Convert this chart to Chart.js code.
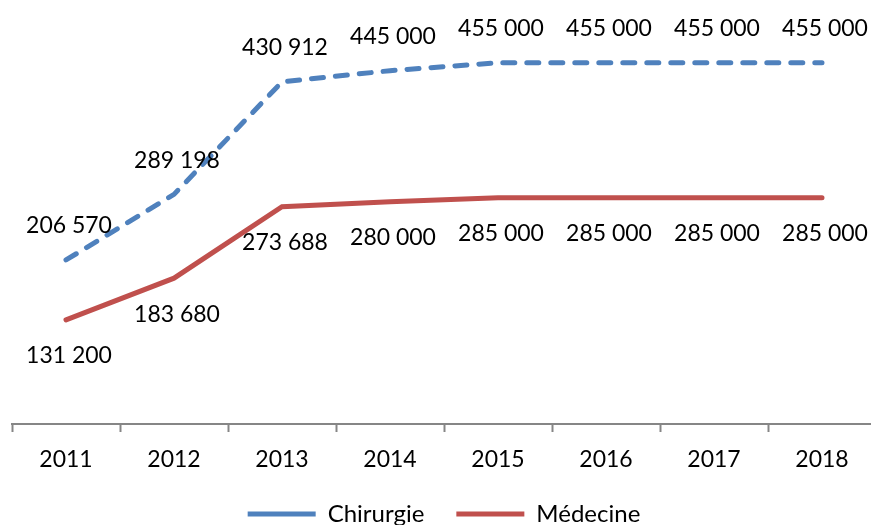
<!DOCTYPE html>
<html>
<head>
<meta charset="utf-8">
<script src="https://cdn.jsdelivr.net/npm/chart.js@4/dist/chart.umd.min.js"></script>
<style>
  html, body { margin: 0; padding: 0; background: #fff; overflow: hidden; }
  #wrap { width: 871px; height: 525px; overflow: hidden; }
</style>
</head>
<body>
<div id="wrap"><canvas id="chart" width="876" height="525"></canvas></div>
<script>
const years = ["2011", "2012", "2013", "2014", "2015", "2016", "2017", "2018"];
const chirurgie = [206570, 289198, 430912, 445000, 455000, 455000, 455000, 455000];
const medecine = [131200, 183680, 273688, 280000, 285000, 285000, 285000, 285000];

const FONT = "Lato, 'Open Sans', sans-serif";

// "206 570" style numbers
const fmt = (v) => String(v).replace(/\B(?=(\d{3})+(?!\d))/g, " ");

// value labels: above for Chirurgie, below for Médecine
const valueLabels = {
  id: "valueLabels",
  afterDatasetsDraw(chart) {
    const ctx = chart.ctx;
    ctx.save();
    ctx.font = "23px " + FONT;
    ctx.fillStyle = "#000";
    ctx.textAlign = "center";
    ctx.textBaseline = "middle";
    chart.data.datasets.forEach((ds, i) => {
      const meta = chart.getDatasetMeta(i);
      meta.data.forEach((pt, j) => {
        const dy = i === 0 ? -34 : 36;
        ctx.fillText(fmt(ds.data[j]), pt.x + 3, pt.y + dy);
      });
    });
    ctx.restore();
  },
};

new Chart(document.getElementById("chart"), {
  type: "line",
  data: {
    labels: years,
    datasets: [
      {
        label: "Chirurgie",
        data: chirurgie,
        borderColor: "#4F81BD",
        backgroundColor: "#4F81BD",
        borderWidth: 5,
        borderDash: [12, 12],
        borderCapStyle: "round",
        pointRadius: 0,
        tension: 0,
      },
      {
        label: "Médecine",
        data: medecine,
        borderColor: "#C0504D",
        backgroundColor: "#C0504D",
        borderWidth: 5,
        borderCapStyle: "round",
        pointRadius: 0,
        tension: 0,
      },
    ],
  },
  options: {
    responsive: false,
    animation: false,
    layout: { padding: { top: 27, left: 12, right: 0, bottom: -11 } },
    plugins: {
      tooltip: { enabled: false },
      legend: {
        position: "bottom",
        labels: {
          usePointStyle: true,
          pointStyle: "line",
          pointStyleWidth: 68,
          padding: 2,
          color: "#000",
          font: { family: FONT, size: 24 },
          generateLabels(chart) {
            const items = Chart.defaults.plugins.legend.labels.generateLabels(chart);
            // widen the gap between the two legend entries
            items[0].text += "\u2003\u2002";
            return items;
          },
        },
      },
    },
    scales: {
      x: {
        offset: true,
        grid: {
          display: true,
          offset: true,
          drawOnChartArea: false,
          drawTicks: true,
          tickLength: 8,
          tickColor: "#868686",
          tickWidth: 2,
        },
        border: { display: true, color: "#868686", width: 2 },
        ticks: {
          color: "#000",
          padding: 14,
          font: { family: FONT, size: 23 },
          maxRotation: 0,
        },
        afterFit(scale) {
          scale.height = 76;
        },
      },
      y: {
        display: false,
        min: 0,
        max: 500000,
      },
    },
  },
  plugins: [valueLabels],
});
</script>
</body>
</html>
